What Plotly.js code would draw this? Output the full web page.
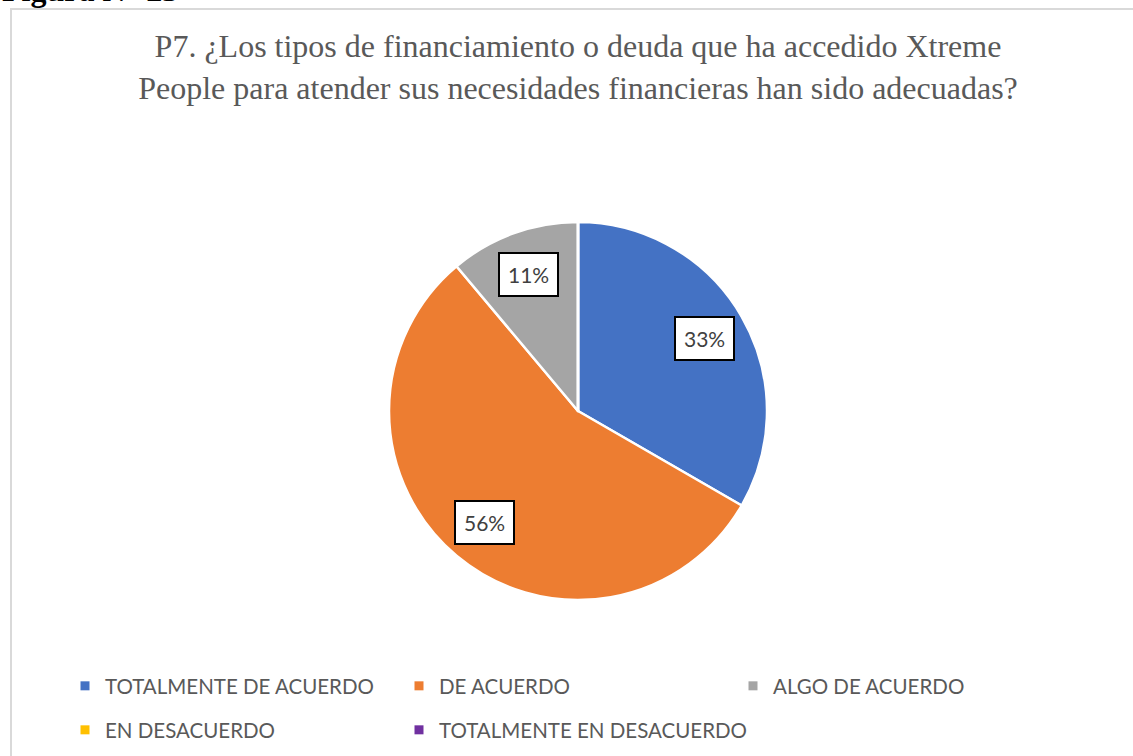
<!DOCTYPE html>
<html><head><meta charset="utf-8">
<script src="https://cdn.plot.ly/plotly-3.0.1.min.js"></script>
<style>html,body{margin:0;padding:0;background:#fff;overflow:hidden;} #chart{width:1133px;height:756px;}</style>
</head><body><div id="chart"></div>
<script>
// ---- data ----
const categories = ['TOTALMENTE DE ACUERDO', 'DE ACUERDO', 'ALGO DE ACUERDO', 'EN DESACUERDO', 'TOTALMENTE EN DESACUERDO'];
const counts = [3, 5, 1, 0, 0];
const colors = ['#4472C4', '#ED7D31', '#A5A5A5', '#FFC000', '#7030A0'];
const legendRows = ['legend', 'legend', 'legend', 'legend2', 'legend3'];
const titleText = 'P7. ¿Los tipos de financiamiento o deuda que ha accedido Xtreme<br>People para atender sus necesidades financieras han sido adecuadas?';
const figureLabel = 'Figura N° 23';

// ---- layout constants ----
const W = 1133, H = 756;
const cx = 578, cy = 411, R = 189;
const labelR = 0.77;

const total = counts.reduce((a, b) => a + b, 0);

const pie = {
  type: 'pie',
  values: counts,
  labels: categories,
  sort: false,
  direction: 'clockwise',
  rotation: 0,
  textinfo: 'none',
  hoverinfo: 'label+percent',
  showlegend: false,
  marker: {colors: colors, line: {color: '#ffffff', width: 2.5}},
  domain: {x: [(cx - R) / W, (cx + R) / W], y: [1 - (cy + R) / H, 1 - (cy - R) / H]}
};

// legend entries (dummy traces, one per category)
const legendTraces = categories.map((c, i) => ({
  type: 'scatter', mode: 'markers', x: [null], y: [null], name: c,
  marker: {symbol: 'square', size: 9, color: colors[i]},
  legend: legendRows[i], hoverinfo: 'skip'
}));

// percentage label boxes positioned from the data
const annotations = [];
let cum = 0;
counts.forEach((v, i) => {
  const mid = cum + v / 2;
  cum += v;
  if (v <= 0) return;
  const ang = 2 * Math.PI * mid / total;
  const px = cx + labelR * R * Math.sin(ang);
  const py = cy - labelR * R * Math.cos(ang);
  annotations.push({
    xref: 'paper', yref: 'paper', x: px / W, y: 1 - py / H,
    xanchor: 'center', yanchor: 'middle', showarrow: false,
    text: Math.round(100 * v / total) + '%',
    font: {family: 'Lato, sans-serif', size: 21, color: '#404040'},
    bgcolor: '#ffffff', bordercolor: '#000000', borderwidth: 2, borderpad: 8
  });
});
annotations.push({
  xref: 'paper', yref: 'paper', x: 0, y: 1 - 10 / H, xanchor: 'left', yanchor: 'bottom',
  showarrow: false, text: '<b>' + figureLabel + '</b>',
  font: {family: 'Liberation Serif, serif', size: 32, color: '#000000'}
});

const legendFont = {family: 'Lato, sans-serif', size: 20.5, color: '#595959'};
const legendBase = {orientation: 'h', xanchor: 'left', yanchor: 'middle', font: legendFont, bgcolor: 'rgba(0,0,0,0)'};
const layout = {
  width: W, height: H,
  margin: {l: 0, r: 0, t: 0, b: 0},
  paper_bgcolor: '#ffffff', plot_bgcolor: '#ffffff',
  xaxis: {visible: false}, yaxis: {visible: false},
  title: {
    text: titleText, x: cx / W, xanchor: 'center', xref: 'paper',
    y: 1 - 57 / H, yanchor: 'top', yref: 'container',
    font: {family: 'Liberation Serif, serif', size: 32, color: '#595959'}
  },
  legend: Object.assign({}, legendBase, {x: 65 / W, y: 1 - 686 / H, entrywidth: 289, entrywidthmode: 'pixels'}),
  legend2: Object.assign({}, legendBase, {x: 65 / W, y: 1 - 730 / H}),
  legend3: Object.assign({}, legendBase, {x: 399 / W, y: 1 - 730 / H}),
  shapes: [{type: 'rect', xref: 'paper', yref: 'paper', x0: 11 / W, x1: 1.05, y0: -0.05, y1: 1 - 9 / H,
    line: {color: '#d9d9d9', width: 2}, fillcolor: 'rgba(0,0,0,0)', layer: 'below'}],
  annotations: annotations,
  showlegend: true
};

Plotly.newPlot('chart', [pie].concat(legendTraces), layout, {displayModeBar: false, staticPlot: true});
</script>
</body></html>
